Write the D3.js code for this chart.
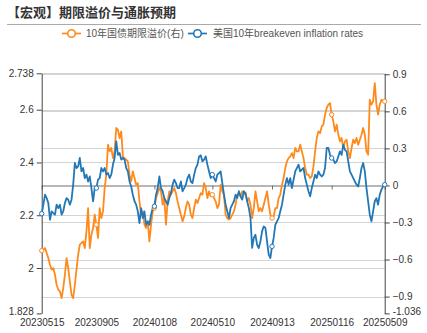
<!DOCTYPE html>
<html><head><meta charset="utf-8">
<script src="https://cdn.jsdelivr.net/npm/d3@7/dist/d3.min.js"></script>
<style>
html,body{margin:0;padding:0;background:#fff;}
svg{display:block;font-family:"Liberation Sans","Noto Sans CJK SC",sans-serif;}
</style></head>
<body><svg id="c" width="427" height="333"></svg>
<script>
const title = "【宏观】期限溢价与通胀预期";
const seriesNames = ["10年国债期限溢价(右)", "美国10年breakeven inflation rates"];
const dates = [
"20230515","20230518","20230522","20230525","20230529","20230601","20230605","20230608","20230612","20230615",
"20230619","20230622","20230626","20230629","20230703","20230706","20230710","20230713","20230717","20230720",
"20230724","20230727","20230731","20230803","20230807","20230810","20230814","20230817","20230821","20230824",
"20230828","20230831","20230904","20230905","20230911","20230914","20230918","20230921","20230925","20230928",
"20231002","20231005","20231009","20231012","20231016","20231019","20231023","20231026","20231030","20231102",
"20231106","20231109","20231113","20231116","20231120","20231123","20231127","20231130","20231204","20231207",
"20231211","20231214","20231218","20231221","20231225","20231228","20240101","20240104","20240108","20240111",
"20240115","20240118","20240122","20240125","20240129","20240201","20240205","20240208","20240212","20240215",
"20240219","20240222","20240226","20240229","20240304","20240307","20240311","20240314","20240318","20240321",
"20240325","20240328","20240401","20240404","20240408","20240411","20240415","20240418","20240422","20240425",
"20240429","20240502","20240506","20240510","20240513","20240516","20240520","20240523","20240527","20240530",
"20240603","20240606","20240610","20240613","20240617","20240620","20240624","20240627","20240701","20240704",
"20240708","20240711","20240715","20240718","20240722","20240725","20240729","20240801","20240805","20240808",
"20240812","20240815","20240819","20240822","20240826","20240829","20240902","20240905","20240909","20240913",
"20240916","20240919","20240923","20240926","20240930","20241003","20241007","20241010","20241014","20241017",
"20241021","20241024","20241028","20241031","20241104","20241107","20241111","20241114","20241118","20241121",
"20241125","20241128","20241202","20241205","20241209","20241212","20241216","20241219","20241223","20241226",
"20241230","20250102","20250106","20250109","20250113","20250116","20250120","20250123","20250127","20250130",
"20250203","20250206","20250210","20250213","20250217","20250220","20250224","20250227","20250303","20250306",
"20250310","20250313","20250317","20250320","20250324","20250327","20250331","20250403","20250407","20250410",
"20250414","20250417","20250421","20250424","20250428","20250501","20250505","20250509"];
const xTickLabels = ["20230515","20230905","20240108","20240510","20240913","20250116","20250509"];
// 10年国债期限溢价 (right axis)
const termPremium = [
-0.528,-0.520,-0.507,-0.547,-0.588,-0.642,-0.682,-0.669,-0.723,-0.804,
-0.844,-0.858,-0.912,-0.831,-0.723,-0.588,-0.669,-0.777,-0.885,-0.912,
-0.804,-0.682,-0.561,-0.480,-0.466,-0.453,-0.507,-0.372,-0.183,-0.507,
-0.399,-0.345,-0.237,-0.318,-0.426,-0.183,-0.264,-0.210,-0.021,0.087,
0.330,0.276,
0.303,0.222,0.276,0.465,0.451,0.384,0.438,0.235,0.222,0.208,
0.195,0.087,0.033,0.114,0.060,0.006,0.019,-0.129,-0.237,-0.210,
-0.318,-0.345,-0.291,-0.453,-0.318,-0.210,-0.183,-0.102,-0.062,-0.021,
-0.048,-0.156,-0.102,-0.318,-0.129,-0.048,-0.075,-0.048,-0.021,-0.062,
-0.129,
-0.183,-0.237,-0.291,-0.250,-0.183,-0.129,-0.156,-0.237,-0.264,-0.183,
-0.115,-0.142,-0.102,-0.062,-0.075,0.019,-0.021,-0.102,-0.048,-0.088,
-0.075,-0.102,-0.129,-0.183,-0.156,0.006,-0.048,-0.075,-0.237,-0.264,
-0.277,-0.264,-0.237,-0.210,-0.156,-0.075,-0.062,-0.088,-0.048,-0.075,
-0.062,
-0.129,-0.102,-0.156,-0.264,-0.183,-0.048,-0.129,-0.210,-0.183,-0.210,
-0.156,-0.102,-0.048,-0.156,-0.237,-0.264,-0.250,-0.183,-0.183,-0.102,
-0.075,0.006,0.060,0.141,0.195,0.222,0.235,0.262,0.222,0.303,
0.276,0.276,0.330,0.276,0.222,0.141,0.087,0.087,0.060,0.073,
0.154,
0.276,0.384,0.438,0.424,0.478,0.492,0.573,0.627,0.654,0.667,
0.573,0.519,0.438,0.492,0.411,0.357,0.384,0.303,0.357,0.370,
0.276,0.222,0.303,0.370,0.343,0.384,0.330,0.370,0.411,0.465,
0.411,0.276,0.249,0.694,0.654,0.681,0.829,0.654,0.573,0.654,
0.694,0.681,0.681];
// 美国10年breakeven inflation rates (left axis)
const usBreakeven = [
2.206,2.240,2.278,2.265,2.246,2.183,2.215,2.208,2.202,2.240,
2.227,2.240,2.202,2.215,2.246,2.265,2.259,2.240,2.259,2.316,
2.398,2.379,2.385,2.417,2.366,2.379,2.341,2.354,2.328,2.347,
2.303,2.253,2.303,2.303,2.335,2.341,2.379,2.366,2.379,2.354,
2.360,2.341,
2.354,2.392,2.417,2.480,2.429,2.436,2.411,2.417,2.411,2.379,
2.366,2.328,2.309,2.278,2.253,2.240,2.215,2.170,2.227,2.189,
2.215,2.164,2.177,2.164,2.202,2.227,2.234,2.278,2.303,2.347,
2.303,2.291,2.265,2.253,2.240,2.265,2.284,2.316,2.335,2.322,
2.303,
2.303,2.328,2.291,2.303,2.316,2.341,2.354,2.328,2.322,2.354,
2.379,2.392,2.423,2.427,2.404,2.411,2.423,2.392,2.366,2.341,
2.354,2.341,2.328,2.354,2.360,2.366,2.322,2.278,2.240,2.215,
2.189,2.227,2.240,2.253,2.278,2.265,2.291,2.272,2.259,2.291,
2.284,
2.253,2.227,2.189,2.076,2.114,2.126,2.088,2.076,2.101,2.139,
2.158,2.152,2.101,2.051,2.038,2.082,2.114,2.164,2.177,2.189,
2.215,2.240,2.278,2.316,2.341,2.316,2.341,2.303,2.335,2.366,
2.379,2.392,2.366,2.373,2.379,2.341,2.316,2.291,2.272,2.303,
2.328,
2.354,2.341,2.366,2.354,2.347,2.354,2.379,2.455,2.455,2.429,
2.417,2.411,2.398,2.404,2.423,2.442,2.429,2.467,2.448,2.442,
2.404,2.366,2.354,2.341,2.328,2.316,2.309,2.341,2.379,2.398,
2.366,2.303,2.253,2.202,2.177,2.215,2.253,2.265,2.240,2.278,
2.297,2.309,2.316];
const leftTicks = [1.828, 2.0, 2.2, 2.4, 2.6, 2.738];
const rightTicks = [-1.036, -0.9, -0.6, -0.3, 0, 0.3, 0.6, 0.9];
const leftDomain = [1.828, 2.738];
const rightDomain = [-1.036, 0.908];
const colors = ["#ff8a1c", "#2277b6"];

const svg = d3.select("#c");
const L = 41.7, R = 384.7, T = 73.3, B = 313.4;

const x = d3.scalePoint().domain(dates).range([L, R]);
const yL = d3.scaleLinear().domain(leftDomain).range([B, T]);
const yR = d3.scaleLinear().domain(rightDomain).range([B, T]);

// title
svg.append("text").attr("x", 7).attr("y", 17).attr("font-size", 13).attr("font-weight", "bold")
  .attr("fill", "#333").attr("font-family", "'Noto Sans CJK SC',sans-serif").text(title);
svg.append("line").attr("x1", 7).attr("x2", 421).attr("y1", 24.5).attr("y2", 24.5)
  .attr("stroke", "#aaa").attr("stroke-width", 1);

// gridlines
const grid = svg.append("g");
leftTicks.filter(v => v !== leftDomain[0]).forEach(v => {
  grid.append("line").attr("x1", L).attr("x2", R).attr("y1", Math.round(yL(v)) + 0.5).attr("y2", Math.round(yL(v)) + 0.5)
    .attr("stroke", "#d4d4d4");
});
rightTicks.filter(v => v !== rightDomain[0] && v !== 0).forEach(v => {
  grid.append("line").attr("x1", L).attr("x2", R).attr("y1", Math.round(yR(v)) + 0.5).attr("y2", Math.round(yR(v)) + 0.5)
    .attr("stroke", "#d4d4d4");
});

// zero line with x ticks
const zy = Math.round(yR(0)) + 0.5;
const xZero = svg.append("g").attr("transform", `translate(0,${zy})`)
  .call(d3.axisBottom(x).tickValues(xTickLabels).tickSize(4).tickSizeOuter(0).tickFormat(""));
xZero.select(".domain").attr("stroke", "#6e6e6e");
xZero.selectAll(".tick line").attr("stroke", "#6e6e6e");

// x labels at bottom
const xLab = svg.append("g").attr("transform", `translate(0,${B})`)
  .call(d3.axisBottom(x).tickValues(xTickLabels).tickSize(0).tickPadding(6));
xLab.select(".domain").remove();
xLab.selectAll("text").attr("font-size", 10).attr("fill", "#333").attr("font-family", "'Liberation Sans',sans-serif");

// left axis
const fmtL = d => (d === 2 ? "2" : (d === 1.828 || d === 2.738) ? d3.format(".3f")(d) : d3.format(".1f")(d));
const aL = svg.append("g").attr("transform", `translate(${L},0)`)
  .call(d3.axisLeft(yL).tickValues(leftTicks).tickSize(5).tickSizeOuter(0).tickPadding(3).tickFormat(fmtL));
aL.select(".domain").attr("stroke", "#444");
aL.selectAll(".tick line").attr("stroke", "#444");
aL.selectAll("text").attr("font-size", 10).attr("fill", "#333").attr("font-family", "'Liberation Sans',sans-serif");
aL.selectAll(".tick").filter(d => d === leftDomain[0]).select("text").attr("y", -2);

// right axis
const fmtR = d => (d === 0 ? "0" : d === -1.036 ? "-1.036" : d3.format(".1f")(d));
const aR = svg.append("g").attr("transform", `translate(${R},0)`)
  .call(d3.axisRight(yR).tickValues(rightTicks).tickSize(5).tickSizeOuter(0).tickPadding(3).tickFormat(fmtR));
aR.select(".domain").attr("stroke", "#444");
aR.selectAll(".tick line").attr("stroke", "#444");
aR.selectAll("text").attr("font-size", 10).attr("fill", "#333").attr("font-family", "'Liberation Sans',sans-serif");
aR.selectAll(".tick").filter(d => d === rightDomain[0]).select("text").attr("y", -2);

// lines
const lineR = d3.line().x((d, i) => x(dates[i])).y(d => yR(d));
const lineL = d3.line().x((d, i) => x(dates[i])).y(d => yL(d));
svg.append("path").datum(termPremium).attr("d", lineR).attr("fill", "none")
  .attr("stroke", colors[0]).attr("stroke-width", 1.8).attr("stroke-linejoin", "round");
svg.append("path").datum(usBreakeven).attr("d", lineL).attr("fill", "none")
  .attr("stroke", colors[1]).attr("stroke-width", 1.8).attr("stroke-linejoin", "round");

// markers at label dates
const markIdx = xTickLabels.map(d => dates.indexOf(d));
svg.append("g").selectAll("circle").data(markIdx).join("circle")
  .attr("cx", i => x(dates[i])).attr("cy", i => yR(termPremium[i])).attr("r", 2.2)
  .attr("fill", "#fff").attr("stroke", colors[0]).attr("stroke-width", 1);
svg.append("g").selectAll("circle").data(markIdx).join("circle")
  .attr("cx", i => x(dates[i])).attr("cy", i => yL(usBreakeven[i])).attr("r", 2.2)
  .attr("fill", "#fff").attr("stroke", colors[1]).attr("stroke-width", 1);

// legend
const legend = svg.append("g").attr("font-size", 10).attr("fill", "#555");
const legItems = [{x: 62, tx: 86}, {x: 188, tx: 213}];
legItems.forEach((it, k) => {
  legend.append("line").attr("x1", it.x).attr("x2", it.x + 19).attr("y1", 33.5).attr("y2", 33.5)
    .attr("stroke", colors[k]).attr("stroke-width", 1.7);
  legend.append("circle").attr("cx", it.x + 9.5).attr("cy", 33.5).attr("r", 3.8)
    .attr("fill", "#fff").attr("stroke", colors[k]).attr("stroke-width", 1.6);
  legend.append("text").attr("x", it.tx).attr("y", 37).attr("fill", "#555").text(seriesNames[k]);
});
</script></body></html>
